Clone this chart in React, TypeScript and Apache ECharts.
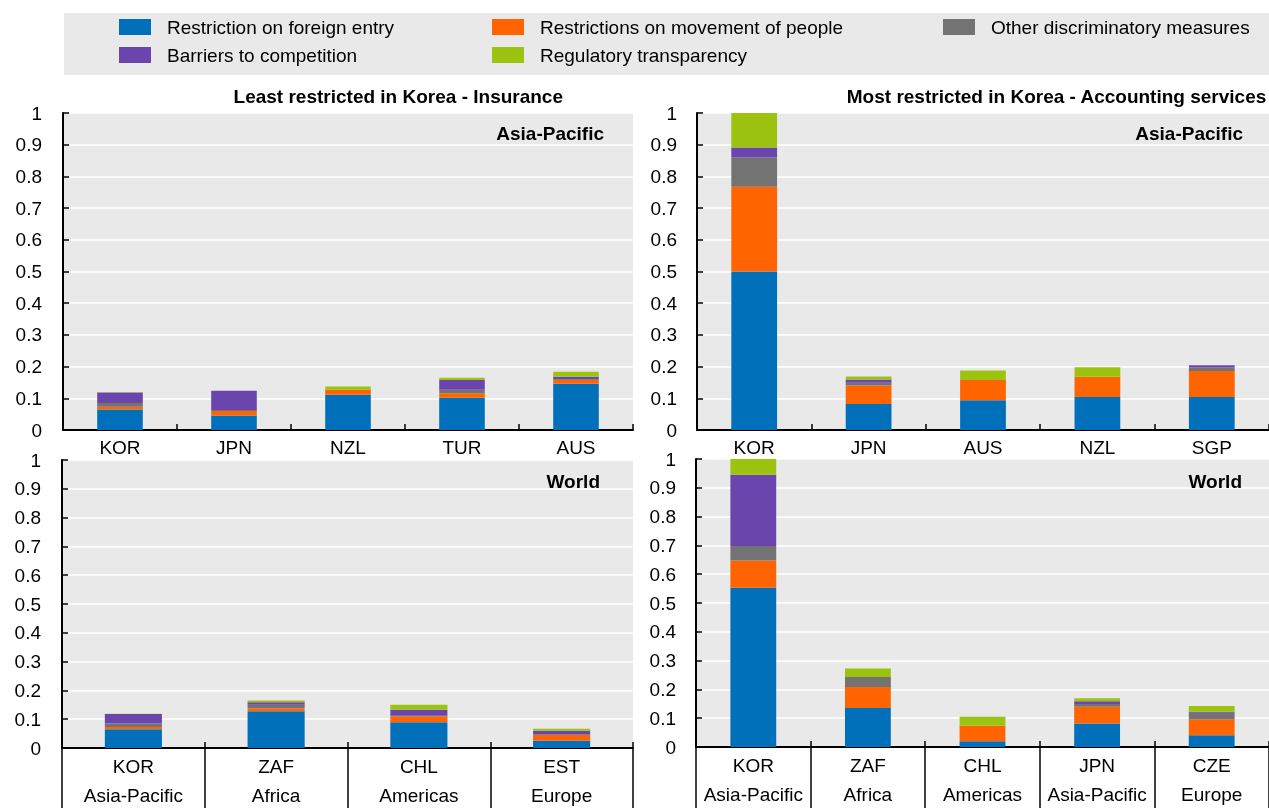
import React, { useEffect, useRef } from "react";
import * as echarts from "echarts";

const FONT = "'Liberation Sans', Arial, sans-serif";

const seriesNames = [
  "Restriction on foreign entry",
  "Restrictions on movement of people",
  "Other discriminatory measures",
  "Barriers to competition",
  "Regulatory transparency",
];
const seriesColors = ["#0070bb", "#ff6400", "#737373", "#6b45ae", "#9bc30f"];

// Top-left: Least restricted in Korea - Insurance, Asia-Pacific
const insApCodes = ["KOR", "JPN", "NZL", "TUR", "AUS"];
const insApForeign = [0.065, 0.046, 0.111, 0.102, 0.146];
const insApMovement = [0.008, 0.014, 0.016, 0.014, 0.012];
const insApOther = [0.012, 0.003, 0.0, 0.011, 0.002];
const insApBarriers = [0.033, 0.061, 0.0, 0.031, 0.008];
const insApTransparency = [0.001, 0.0, 0.01, 0.007, 0.016];

// Top-right: Most restricted in Korea - Accounting services, Asia-Pacific
const accApCodes = ["KOR", "JPN", "AUS", "NZL", "SGP"];
const accApForeign = [0.5, 0.082, 0.094, 0.104, 0.104];
const accApMovement = [0.267, 0.058, 0.064, 0.064, 0.082];
const accApOther = [0.093, 0.009, 0.0, 0.0, 0.012];
const accApBarriers = [0.031, 0.01, 0.0, 0.0, 0.006];
const accApTransparency = [0.109, 0.01, 0.03, 0.03, 0.0];

// Bottom-left: Insurance, World
const insWCodes = ["KOR", "ZAF", "CHL", "EST"];
const insWRegions = ["Asia-Pacific", "Africa", "Americas", "Europe"];
const insWForeign = [0.065, 0.128, 0.089, 0.025];
const insWMovement = [0.008, 0.01, 0.021, 0.02];
const insWOther = [0.012, 0.012, 0.002, 0.003];
const insWBarriers = [0.033, 0.009, 0.021, 0.012];
const insWTransparency = [0.001, 0.006, 0.017, 0.007];

// Bottom-right: Accounting services, World
const accWCodes = ["KOR", "ZAF", "CHL", "JPN", "CZE"];
const accWRegions = ["Asia-Pacific", "Africa", "Americas", "Asia-Pacific", "Europe"];
const accWForeign = [0.553, 0.135, 0.02, 0.082, 0.041];
const accWMovement = [0.095, 0.073, 0.054, 0.058, 0.055];
const accWOther = [0.05, 0.035, 0.0, 0.009, 0.023];
const accWBarriers = [0.247, 0.0, 0.0, 0.01, 0.003];
const accWTransparency = [0.055, 0.03, 0.031, 0.01, 0.02];

const yTickLabels = ["0", "0.1", "0.2", "0.3", "0.4", "0.5", "0.6", "0.7", "0.8", "0.9", "1"];

const panelTitles = ["Least restricted in Korea - Insurance", "Most restricted in Korea - Accounting services"];
const panelTags = ["Asia-Pacific", "Asia-Pacific", "World", "World"];

export default function App() {
  const ref = useRef<HTMLDivElement>(null);

  useEffect(() => {
    if (!ref.current) return;
    const chart = echarts.init(ref.current, undefined, { renderer: "svg" });

    const panels = [
      { cats: insApCodes, data: [insApForeign, insApMovement, insApOther, insApBarriers, insApTransparency] },
      { cats: accApCodes, data: [accApForeign, accApMovement, accApOther, accApBarriers, accApTransparency] },
      {
        cats: insWCodes.map((c, i) => c + "\n" + insWRegions[i]),
        data: [insWForeign, insWMovement, insWOther, insWBarriers, insWTransparency],
      },
      {
        cats: accWCodes.map((c, i) => c + "\n" + accWRegions[i]),
        data: [accWForeign, accWMovement, accWOther, accWBarriers, accWTransparency],
      },
    ];

    const grids = [
      { left: 63, top: 113, width: 570, height: 317 },
      { left: 697, top: 113, width: 572, height: 317 },
      { left: 62, top: 460, width: 571, height: 288 },
      { left: 696, top: 459, width: 573, height: 288 },
    ].map((g) => ({
      ...g,
      show: true,
      backgroundColor: "#e9e9e9",
      borderWidth: 0,
      containLabel: false,
      outerBoundsMode: "none",
    }));

    const textBase = { fontFamily: FONT, fontSize: 19, color: "#000" };

    const xAxes: any[] = panels.map((p, i) => {
      const bottomRow = i >= 2;
      return {
        type: "category",
        gridIndex: i,
        data: p.cats,
        axisLine: { show: true, lineStyle: { color: "#000", width: 2 } },
        axisTick: bottomRow
          ? { show: true, inside: false, length: 62, interval: 0, lineStyle: { color: "#000", width: 1.5 } }
          : { show: true, inside: true, length: 6, interval: 0, lineStyle: { color: "#000", width: 1.5 } },
        axisLabel: {
          ...textBase,
          interval: 0,
          margin: bottomRow ? 4 : 7,
          lineHeight: bottomRow ? 29 : 20,
        },
        splitLine: { show: false },
      };
    });
    // auxiliary axes for small upward ticks in bottom panels
    [2, 3].forEach((i) => {
      xAxes.push({
        type: "category",
        gridIndex: i,
        data: panels[i].cats,
        position: "bottom",
        axisLine: { show: false },
        axisTick: { show: true, inside: true, length: 6, interval: 0, lineStyle: { color: "#000", width: 1.5 } },
        axisLabel: { show: false },
        splitLine: { show: false },
      });
    });

    const yAxes = panels.map((_, i) => ({
      type: "value",
      gridIndex: i,
      min: 0,
      max: 1,
      interval: 0.1,
      axisLine: { show: true, lineStyle: { color: "#000", width: 2 } },
      axisTick: { show: true, inside: true, length: 6, lineStyle: { color: "#000", width: 1.5 } },
      axisLabel: {
        ...textBase,
        margin: i % 2 === 0 ? 21 : 20,
        formatter: (v: number) => yTickLabels[Math.round(v * 10)] ?? String(v),
      },
      splitLine: { show: true, lineStyle: { color: "#ffffff", width: 1.5 } },
    }));

    const series: any[] = [];
    panels.forEach((p, pi) => {
      p.data.forEach((vals, si) => {
        series.push({
          type: "bar",
          name: seriesNames[si],
          xAxisIndex: pi,
          yAxisIndex: pi,
          stack: "panel" + pi,
          barWidth: "40%",
          data: vals,
          itemStyle: { color: seriesColors[si] },
          emphasis: { disabled: true },
        });
      });
    });

    const legendCommon = {
      orient: "vertical",
      top: 17,
      itemWidth: 32,
      itemHeight: 16,
      itemGap: 8,
      icon: "rect",
      selectedMode: false,
      padding: 0,
      textStyle: { ...textBase, padding: [0, 0, 0, 11], lineHeight: 20 },
    };

    const tagCommon = { padding: 0, textStyle: { ...textBase, fontWeight: "bold" } };

    chart.setOption({
      animation: false,
      title: [
        { text: panelTitles[0], right: 1269 - 563, top: 87, ...tagCommon },
        { text: panelTitles[1], right: 2, top: 87, ...tagCommon },
        { text: panelTags[0], right: 1269 - 604, top: 124, ...tagCommon },
        { text: panelTags[1], right: 1269 - 1243, top: 124, ...tagCommon },
        { text: panelTags[2], right: 1269 - 600, top: 472, ...tagCommon },
        { text: panelTags[3], right: 1269 - 1242, top: 472, ...tagCommon },
      ],
      graphic: [
        { type: "rect", z: -10, shape: { x: 64, y: 13, width: 1205, height: 62 }, style: { fill: "#e9e9e9" } },
      ],
      legend: [
        { ...legendCommon, left: 119, data: [seriesNames[0], seriesNames[3]] },
        { ...legendCommon, left: 492, data: [seriesNames[1], seriesNames[4]] },
        { ...legendCommon, left: 943, data: [seriesNames[2]] },
      ],
      grid: grids,
      xAxis: xAxes,
      yAxis: yAxes,
      series,
    });

    return () => chart.dispose();
  }, []);

  return <div ref={ref} style={{ position: "fixed", left: 0, top: 0, width: 1269, height: 808 }} />;
}
